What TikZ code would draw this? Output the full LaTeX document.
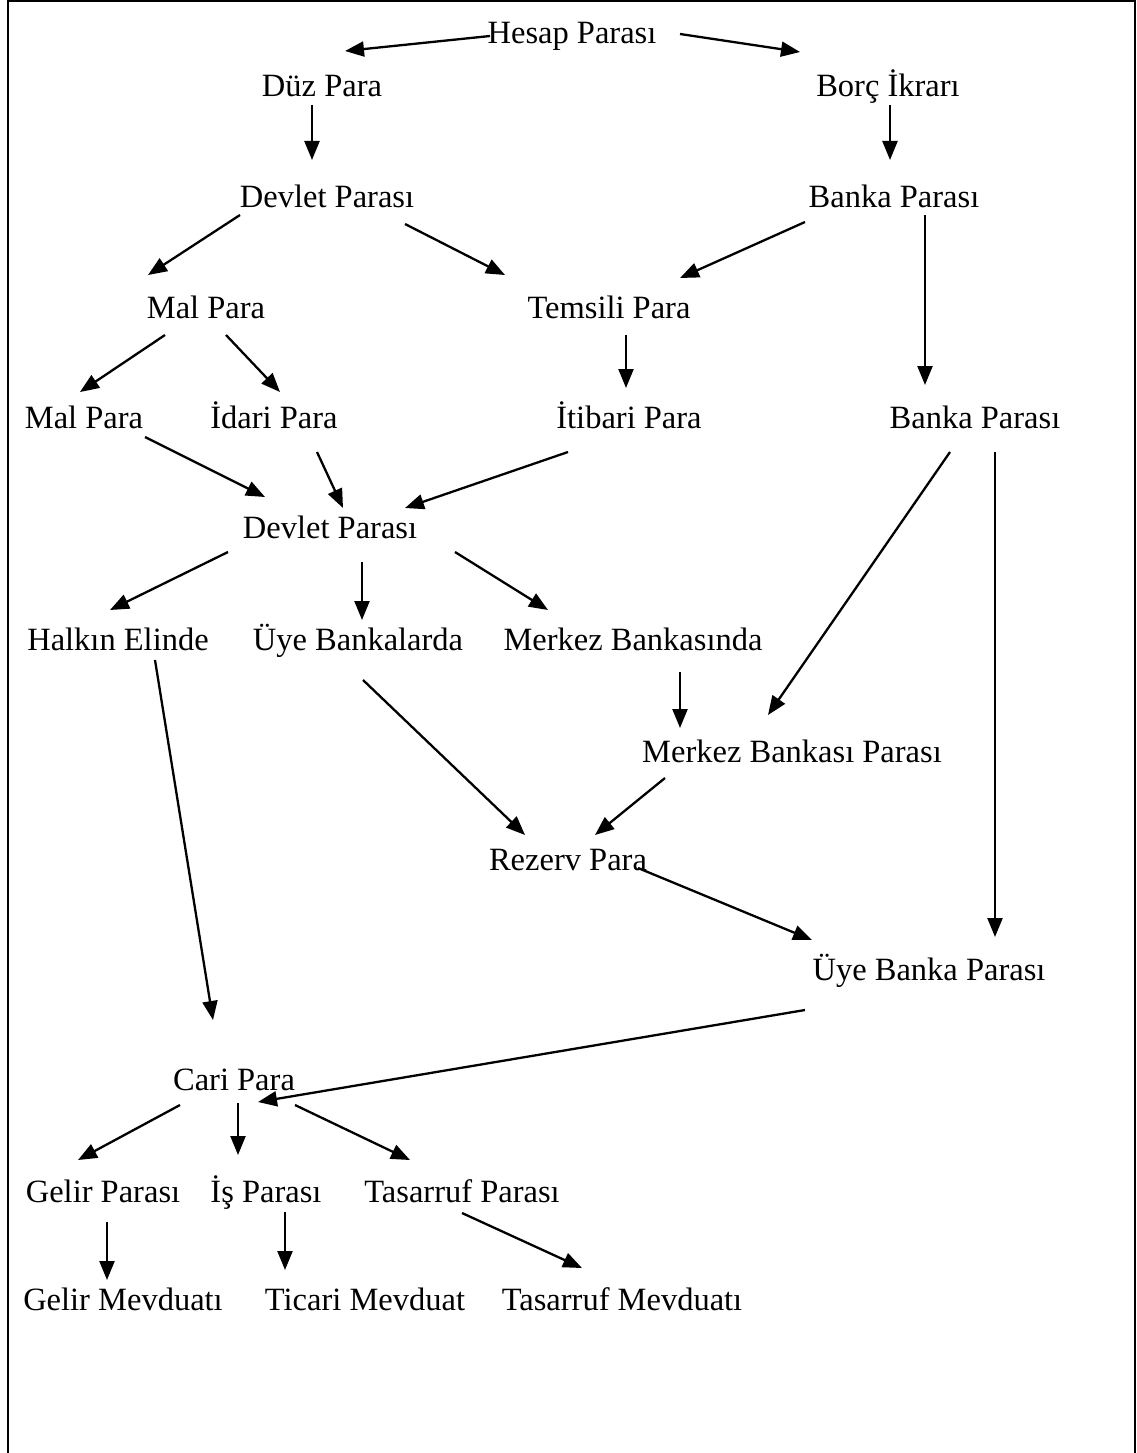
\documentclass[tikz,border=0pt]{standalone}
\usepackage{fontspec}
\setmainfont{Liberation Serif}
\usetikzlibrary{arrows.meta,calc}
\begin{document}
\begin{tikzpicture}[x=1pt,y=-1pt,
  lbl/.style={anchor=base,inner sep=0pt,font=\fontsize{32.5}{36}\selectfont},
  arr/.style={line width=2.3pt,-{Triangle[length=19pt,width=15pt]}}]
\useasboundingbox (0,0) rectangle (1136,1453);
\draw[line width=2pt] (8,1453) -- (8,1.5) -- (1134.5,1.5) -- (1134.5,1453);
% nodes
\node[lbl] (hesap) at (572,44) {Hesap Parası};
\node[lbl] (duz) at (322,97) {Düz Para};
\node[lbl] (borc) at (888,97) {Borç İkrarı};
\node[lbl] (devlet1) at (327,207) {Devlet Parası};
\node[lbl] (banka1) at (894,207) {Banka Parası};
\node[lbl] (mal1) at (206,318) {Mal Para};
\node[lbl] (temsili) at (609,318) {Temsili Para};
\node[lbl] (mal2) at (84,428) {Mal Para};
\node[lbl] (idari) at (274,428) {İdari Para};
\node[lbl] (itibari) at (629,428) {İtibari Para};
\node[lbl] (banka2) at (975,428) {Banka Parası};
\node[lbl] (devlet2) at (330,538) {Devlet Parası};
\node[lbl] (halkin) at (118,650) {Halkın Elinde};
\node[lbl] (uyeb) at (358,650) {Üye Bankalarda};
\node[lbl] (merkezb) at (633,650) {Merkez Bankasında};
\node[lbl] (mbp) at (792,762) {Merkez Bankası Parası};
\node[lbl] (rezerv) at (568,870) {Rezerv Para};
\node[lbl] (ubp) at (929,980) {Üye Banka Parası};
\node[lbl] (cari) at (234,1090) {Cari Para};
\node[lbl] (gelirp) at (103,1202) {Gelir Parası};
\node[lbl] (isp) at (266,1202) {İş Parası};
\node[lbl] (tasp) at (462,1202) {Tasarruf Parası};
\node[lbl] (gelirm) at (123,1310) {Gelir Mevduatı};
\node[lbl] (ticari) at (365,1310) {Ticari Mevduat};
\node[lbl] (tasm) at (622,1310) {Tasarruf Mevduatı};
% connectors
\draw[arr] ($(hesap.base)+(-82,-8)$) -- ($(duz.base)+(23,-46)$);
\draw[arr] ($(hesap.base)+(108,-10)$) -- ($(borc.base)+(-88,-45)$);
\draw[arr] ($(duz.base)+(-10,8)$) -- ($(devlet1.base)+(-15,-47)$);
\draw[arr] ($(borc.base)+(2,8)$) -- ($(banka1.base)+(-4,-47)$);
\draw[arr] ($(devlet1.base)+(-87,8)$) -- ($(mal1.base)+(-58,-43)$);
\draw[arr] ($(devlet1.base)+(78,17)$) -- ($(temsili.base)+(-104,-43)$);
\draw[arr] ($(banka1.base)+(-89,15)$) -- ($(temsili.base)+(71,-40)$);
\draw[arr] ($(banka1.base)+(31,8)$) -- ($(banka2.base)+(-50,-43)$);
\draw[arr] ($(mal1.base)+(-41,17)$) -- ($(mal2.base)+(-4,-36)$);
\draw[arr] ($(mal1.base)+(20,17)$) -- ($(idari.base)+(6,-36)$);
\draw[arr] ($(temsili.base)+(17,17)$) -- ($(itibari.base)+(-3,-40)$);
\draw[arr] ($(mal2.base)+(61,9)$) -- ($(devlet2.base)+(-65,-41)$);
\draw[arr] ($(idari.base)+(43,24)$) -- ($(devlet2.base)+(13,-30)$);
\draw[arr] ($(itibari.base)+(-61,24)$) -- ($(devlet2.base)+(75,-30)$);
\draw[arr] ($(devlet2.base)+(-102,14)$) -- ($(halkin.base)+(-8,-40)$);
\draw[arr] ($(devlet2.base)+(32,24)$) -- ($(uyeb.base)+(4,-30)$);
\draw[arr] ($(devlet2.base)+(125,14)$) -- ($(merkezb.base)+(-85,-40)$);
\draw[arr] ($(banka2.base)+(-25,24)$) -- ($(mbp.base)+(-24,-47)$);
\draw[arr] ($(banka2.base)+(20,24)$) -- ($(ubp.base)+(66,-43)$);
\draw[arr] ($(merkezb.base)+(47,22)$) -- ($(mbp.base)+(-112,-34)$);
\draw[arr] ($(halkin.base)+(37,10)$) -- ($(cari.base)+(-21,-70)$);
\draw[arr] ($(uyeb.base)+(5,30)$) -- ($(rezerv.base)+(-43,-35)$);
\draw[arr] ($(mbp.base)+(-127,16)$) -- ($(rezerv.base)+(27,-35)$);
\draw[arr] ($(rezerv.base)+(70,-2)$) -- ($(ubp.base)+(-117,-40)$);
\draw[arr] ($(ubp.base)+(-124,30)$) -- ($(cari.base)+(24,12)$);
\draw[arr] ($(cari.base)+(-54,15)$) -- ($(gelirp.base)+(-25,-42)$);
\draw[arr] ($(cari.base)+(4,13)$) -- ($(isp.base)+(-28,-47)$);
\draw[arr] ($(cari.base)+(61,15)$) -- ($(tasp.base)+(-52,-42)$);
\draw[arr] ($(gelirp.base)+(4,20)$) -- ($(gelirm.base)+(-16,-30)$);
\draw[arr] ($(isp.base)+(19,10)$) -- ($(ticari.base)+(-80,-40)$);
\draw[arr] ($(tasp.base)+(0,11)$) -- ($(tasm.base)+(-40,-42)$);
\end{tikzpicture}
\end{document}
